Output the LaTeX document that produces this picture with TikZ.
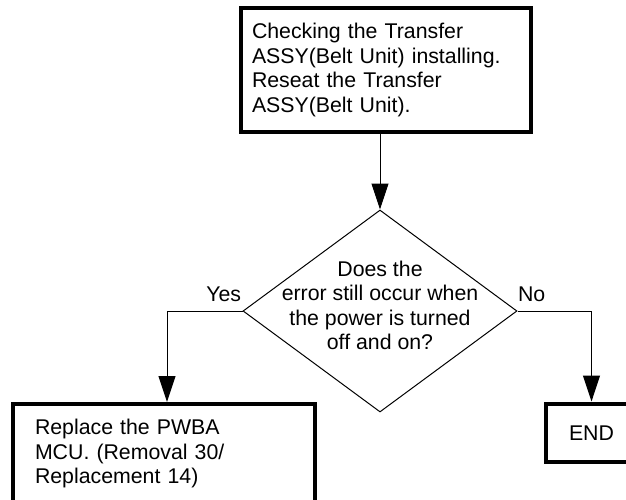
\documentclass[tikz,border=0pt]{standalone}
\usepackage{fontspec}
\setmainfont{Liberation Sans}
\usetikzlibrary{arrows.meta,positioning,shapes.geometric}

\begin{document}
\begin{tikzpicture}[x=1pt, y=-1pt,
  every node/.style={font=\fontsize{21.3}{24.4}\selectfont},
  stepbox/.style={draw, line width=4pt, inner sep=0pt, align=left},
  decide/.style={draw, diamond, line width=1pt, inner sep=0pt, minimum width=274pt, minimum height=202pt},
  arr/.style={-{Triangle[length=26pt, width=17pt]}, line width=1pt},
  ans/.style={inner sep=0pt}]
  \useasboundingbox (0,0) rectangle (626,499);
  \node[stepbox, minimum width=290pt, minimum height=124pt, text width=268pt] (check) at (386,70)
    {Checking the Transfer\\ASSY(Belt Unit) installing.\\Reseat the Transfer\\ASSY(Belt Unit).};
  \node[decide, below=75.5pt of check, xshift=-6pt] (error) {};
  \node[align=center, inner sep=0pt] (errtext) at ([yshift=5.5pt]error.center)
    {Does the\\error still occur when\\the power is turned\\off and on?};
  \node[stepbox, minimum width=302pt, minimum height=99pt, text width=258pt] (pwba) at (164,453.5)
    {Replace the PWBA\\MCU. (Removal 30/\\Replacement 14)};
  \node[stepbox, minimum width=92pt, minimum height=58.5pt, align=center] (done) at (591.5,432.75) {END};
  \draw[arr] (check.south -| error.north) -- (error.north);
  \draw[arr] (error.west) -| node[ans, pos=0, anchor=base east, xshift=-1pt, yshift=10pt] (yes) {Yes} ([xshift=3pt]pwba.north);
  \draw[arr] (error.east) -| node[ans, pos=0, anchor=base west, yshift=10pt] (no) {No} (done.north);
\end{tikzpicture}
\end{document}
